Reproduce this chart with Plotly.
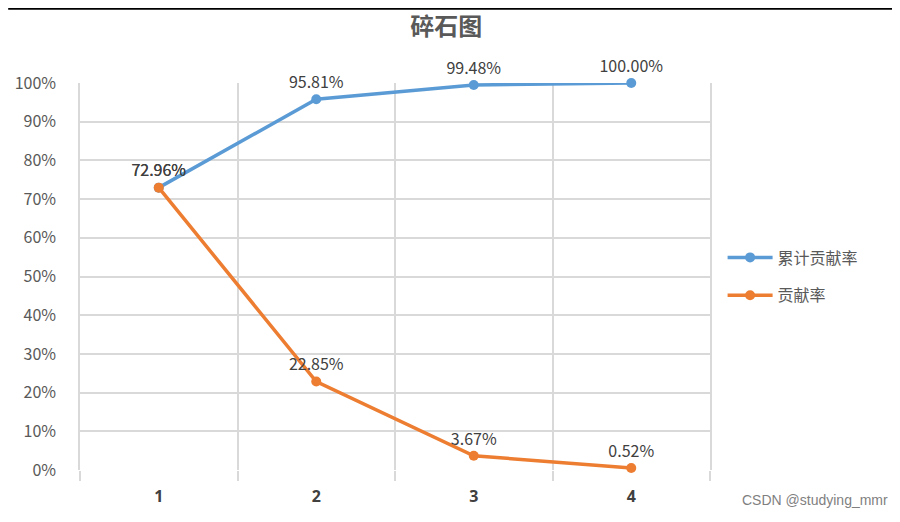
import plotly.graph_objects as go

components = ["1", "2", "3", "4"]
cumulative_rate = [72.96, 95.81, 99.48, 100.00]
contribution_rate = [72.96, 22.85, 3.67, 0.52]
y_ticks = [0, 10, 20, 30, 40, 50, 60, 70, 80, 90, 100]

BLUE = "#5B9BD5"
ORANGE = "#ED7D31"
GRID = "#D9D9D9"
TEXT = "#595959"
FONT = "Noto Sans CJK SC"


def label(vals):
    return ["%.2f%%" % v for v in vals]


fig = go.Figure()

fig.add_trace(go.Scatter(
    x=components, y=cumulative_rate, name="累计贡献率", legendgroup="a",
    mode="lines+markers+text", text=label(cumulative_rate),
    textposition="top center", textfont=dict(size=16, color="#404040"),
    line=dict(color=BLUE, width=3.5), marker=dict(size=10, color=BLUE),
    cliponaxis=False,
))
fig.add_trace(go.Scatter(
    x=components, y=contribution_rate, name="贡献率", legendgroup="b",
    mode="lines+markers+text", text=label(contribution_rate),
    textposition="top center", textfont=dict(size=16, color="#404040"),
    line=dict(color=ORANGE, width=3.5), marker=dict(size=10, color=ORANGE),
    cliponaxis=False,
))

fig.update_layout(
    width=900, height=522,
    margin=dict(l=72, r=198, t=75, b=60),
    paper_bgcolor="white", plot_bgcolor="white",
    font=dict(family=FONT, color=TEXT, size=15),
    title=dict(text="<b>碎石图</b>", x=0.487, xanchor="center", y=0.964, yanchor="middle",
               font=dict(size=24, color=TEXT)),
    legend=dict(x=1.02, xanchor="left", y=0.5, yanchor="middle",
                font=dict(size=16, color=TEXT), itemwidth=45, tracegroupgap=14),
    showlegend=True,
)

fig.update_xaxes(
    type="category", tickson="boundaries", showgrid=True, gridcolor=GRID, gridwidth=1.5,
    ticks="outside", ticklen=10, tickcolor=GRID, tickwidth=1.5,
    showline=False, zeroline=False, ticklabelstandoff=15, automargin=False,
    tickfont=dict(size=16, color="#404040", family="Noto Sans", weight="bold"),
    range=[-0.5, 3.5],
)
fig.update_yaxes(
    range=[0, 100], tickvals=y_ticks, ticktext=["%d%%" % v for v in y_ticks],
    showgrid=True, gridcolor=GRID, gridwidth=1.5, zeroline=False,
    showline=True, mirror=True, linecolor=GRID, linewidth=1.5, automargin=False,
    ticks="", ticklabelstandoff=19, tickfont=dict(size=16, color=TEXT),
)

fig.add_shape(type="line", xref="paper", yref="paper", x0=-0.114, x1=1.3,
              y0=1.192, y1=1.192, line=dict(color="black", width=2))
fig.add_shape(type="line", xref="paper", yref="paper", x0=1.294, x1=1.294,
              y0=0.05, y1=1.19, line=dict(color="#E6E6E6", width=2))

fig.add_annotation(text="CSDN @studying_mmr", xref="paper", yref="paper",
                   x=1.286, y=-0.078, xanchor="right", yanchor="middle", showarrow=False,
                   font=dict(size=14, color="#7F7F7F", family="Liberation Sans"))

fig.write_html("out.html")
